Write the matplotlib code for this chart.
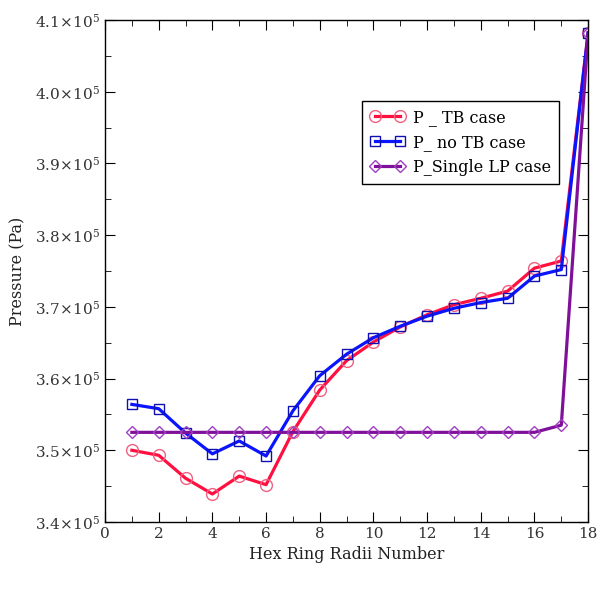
import matplotlib
matplotlib.use("Agg")
import matplotlib.pyplot as plt
from matplotlib.ticker import FuncFormatter, MultipleLocator

# ring radii index
ring = list(range(1, 19))

p_tb = [3.500, 3.493, 3.461, 3.439, 3.464, 3.452, 3.526, 3.584, 3.625,
        3.651, 3.672, 3.689, 3.703, 3.712, 3.722, 3.754, 3.764, 4.082]
p_no_tb = [3.564, 3.558, 3.524, 3.495, 3.513, 3.492, 3.555, 3.604, 3.634,
           3.657, 3.673, 3.687, 3.698, 3.706, 3.712, 3.743, 3.752, 4.082]
p_single_lp = [3.525] * 16 + [3.535, 4.082]

scale = 1e5

plt.rcParams["font.family"] = "DejaVu Serif"
plt.rcParams["mathtext.fontset"] = "dejavuserif"

fig = plt.figure(figsize=(6.12, 5.90), dpi=100)
ax = fig.add_axes([0.1716, 0.1153, 0.7894, 0.8507])

ax.plot(ring, [v * scale for v in p_tb], color="#ff1040", lw=2.3,
        marker="o", ms=8.5, mfc="none", mec="#f06080", mew=1.0,
        label="P _ TB case")
ax.plot(ring, [v * scale for v in p_no_tb], color="#0a14ff", lw=2.3,
        marker="s", ms=7.5, mfc="none", mec="#1010b0", mew=1.0,
        label="P_ no TB case")
ax.plot(ring, [v * scale for v in p_single_lp], color="#80109a", lw=2.3,
        marker="D", ms=6, mfc="none", mec="#a040c0", mew=1.0,
        label="P_Single LP case")

ax.set_xlim(0, 18)
ax.set_ylim(3.4e5, 4.1e5)
ax.xaxis.set_major_locator(MultipleLocator(2))
ax.xaxis.set_minor_locator(MultipleLocator(1))
ax.yaxis.set_major_locator(MultipleLocator(0.1e5))
ax.yaxis.set_minor_locator(MultipleLocator(0.05e5))
ax.yaxis.set_major_formatter(
    FuncFormatter(lambda v, p: r"$%.1f\!\times\!10^{5}$" % (v / scale)))

ax.tick_params(which="both", direction="in", top=True, right=True,
               labelsize=11, labelcolor="#333333")
ax.tick_params(which="major", length=7)
ax.tick_params(which="minor", length=4)
for s in ax.spines.values():
    s.set_linewidth(1.0)

ax.set_xlabel("Hex Ring Radii Number", fontsize=11.5, color="#222222")
ax.set_ylabel("Pressure (Pa)", fontsize=11.5, color="#222222", labelpad=6)

leg = ax.legend(loc="upper left", bbox_to_anchor=(0.515, 0.855),
                fontsize=11.5, fancybox=False, framealpha=1,
                edgecolor="black", handlelength=2.2, borderpad=0.5,
                labelspacing=0.5, numpoints=2, handletextpad=0.5)
leg.get_frame().set_linewidth(1.0)

fig.savefig("out.png", dpi=100)
